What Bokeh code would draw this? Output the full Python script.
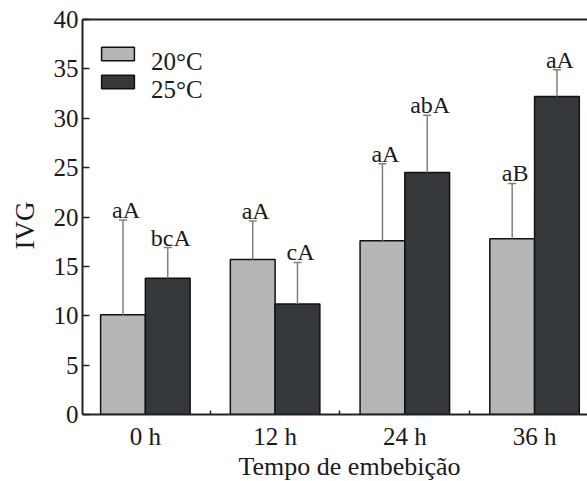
from bokeh.plotting import figure
from bokeh.models import (ColumnDataSource, Whisker, TeeHead, LabelSet, Title,
                          FixedTicker, LinearAxis, Range1d, Legend, LegendItem)
from bokeh.core.properties import value
from bokeh.embed import file_html
from bokeh.resources import INLINE

# ---- data ----
categories = ["0 h", "12 h", "24 h", "36 h"]
ivg_20 = [10.1, 15.7, 17.6, 17.8]
top_20 = [19.7, 19.6, 25.4, 23.4]          # upper end of error bar
letters_20 = ["aA", "aA", "aA", "aB"]
ivg_25 = [13.8, 11.2, 24.5, 32.2]
top_25 = [16.9, 15.4, 30.3, 34.9]
letters_25 = ["bcA", "cA", "abA", "aA"]
y_ticks = [0, 5, 10, 15, 20, 25, 30, 35, 40]
series_names = ["20°C", "25°C"]
x_title = "Tempo de embebição"
y_title = "IVG"

FONT = "Liberation Serif"
LIGHT = "#b4b6b7"
DARK = "#35383b"
ERR = "#808080"
BAR_W = 0.345

centers = [i + 0.5 for i in range(len(categories))]
x20 = [c - BAR_W / 2 for c in centers]
x25 = [c + BAR_W / 2 for c in centers]

p = figure(width=587, height=481, output_backend="svg", toolbar_location=None,
           x_range=Range1d(0.0154, 3.908), y_range=Range1d(0, 40),
           min_border_left=81, min_border_right=0, min_border_top=19,
           min_border_bottom=67)
p.outline_line_color = None
p.xgrid.visible = False
p.ygrid.visible = False
p.background_fill_color = "white"

src20 = ColumnDataSource(dict(x=x20, v=ivg_20, e=top_20, t=letters_20))
src25 = ColumnDataSource(dict(x=x25, v=ivg_25, e=top_25, t=letters_25))

bar_renderers = []
for src, col in ((src20, LIGHT), (src25, DARK)):
    r = p.vbar(x="x", top="v", width=BAR_W, source=src, fill_color=col,
               line_color="#111111", line_width=1.5)
    bar_renderers.append(r)
    w = Whisker(source=src, base="x", lower="v", upper="e",
                line_color=ERR, line_width=1.5,
                upper_head=TeeHead(size=8, line_color=ERR, line_width=1.5),
                lower_head=None, level="glyph")
    p.add_layout(w)
    p.add_layout(LabelSet(x="x", y="e", text="t", source=src, x_offset=3, y_offset=2,
                          text_align="center", text_baseline="alphabetic",
                          text_font=value(FONT), text_font_size="24px",
                          text_color="#1a1a1a"))

# x axis
xa = p.xaxis[0]
xa.ticker = FixedTicker(ticks=centers, minor_ticks=[1, 2, 3])
xa.major_label_overrides = {c: lab for c, lab in zip(centers, categories)}
xa.major_tick_in = 0
xa.major_tick_out = 0
xa.minor_tick_in = 4
xa.minor_tick_out = 0
xa.minor_tick_line_color = "#222222"
xa.minor_tick_line_width = 1.5
xa.major_label_standoff = 8
xa.major_label_text_font = FONT
xa.major_label_text_font_size = "25px"
xa.major_label_text_color = "#1a1a1a"
xa.axis_line_width = 2
xa.axis_line_color = "#222222"

# y axis
ya = p.yaxis[0]
ya.ticker = FixedTicker(ticks=y_ticks)
ya.major_tick_in = 7
ya.major_tick_out = 0
ya.major_tick_line_width = 1.5
ya.major_tick_line_color = "#222222"
ya.minor_tick_line_color = None
ya.major_label_standoff = 4
ya.major_label_text_font = FONT
ya.major_label_text_font_size = "25px"
ya.major_label_text_color = "#1a1a1a"
ya.axis_line_width = 2
ya.axis_line_color = "#222222"

# top frame line
top_axis = LinearAxis(ticker=FixedTicker(ticks=[]), axis_line_width=1.8,
                      axis_line_color="#222222", major_tick_line_color=None,
                      minor_tick_line_color=None, major_label_text_font_size="0px")
p.add_layout(top_axis, "above")

# axis titles
p.add_layout(Title(text=x_title, align="left", offset=156, standoff=-2,
                   vertical_align="top", text_font=FONT, text_font_size="26px",
                   text_font_style="normal", text_color="#1a1a1a"), "below")
p.add_layout(Title(text=y_title, align="left", offset=165, standoff=18,
                   vertical_align="top", text_font=FONT, text_font_size="27px",
                   text_font_style="normal", text_color="#1a1a1a"), "left")

# legend: swatches, and labels set slightly lower as in the reference
def style_legend(lg, spacing):
    lg.orientation = "vertical"
    lg.glyph_width = 41
    lg.glyph_height = 17
    lg.spacing = spacing
    lg.padding = 0
    lg.margin = 0
    lg.label_standoff = 7
    lg.border_line_color = None
    lg.background_fill_alpha = 0
    lg.label_text_font = FONT
    lg.label_text_font_size = "25px"
    lg.label_text_color = "#1a1a1a"

swatches = Legend(items=[LegendItem(label=" ", renderers=[r]) for r in bar_renderers],
                  location=(15, 324))
style_legend(swatches, 11)
p.add_layout(swatches)

ghosts = [p.vbar(x=[], top=[], width=BAR_W, fill_alpha=0, line_alpha=0) for _ in series_names]
texts = Legend(items=[LegendItem(label=n, renderers=[g]) for n, g in zip(series_names, ghosts)],
               location=(21, 310))
style_legend(texts, 0)
p.add_layout(texts)

open("out.html", "w").write(file_html(p, INLINE))
